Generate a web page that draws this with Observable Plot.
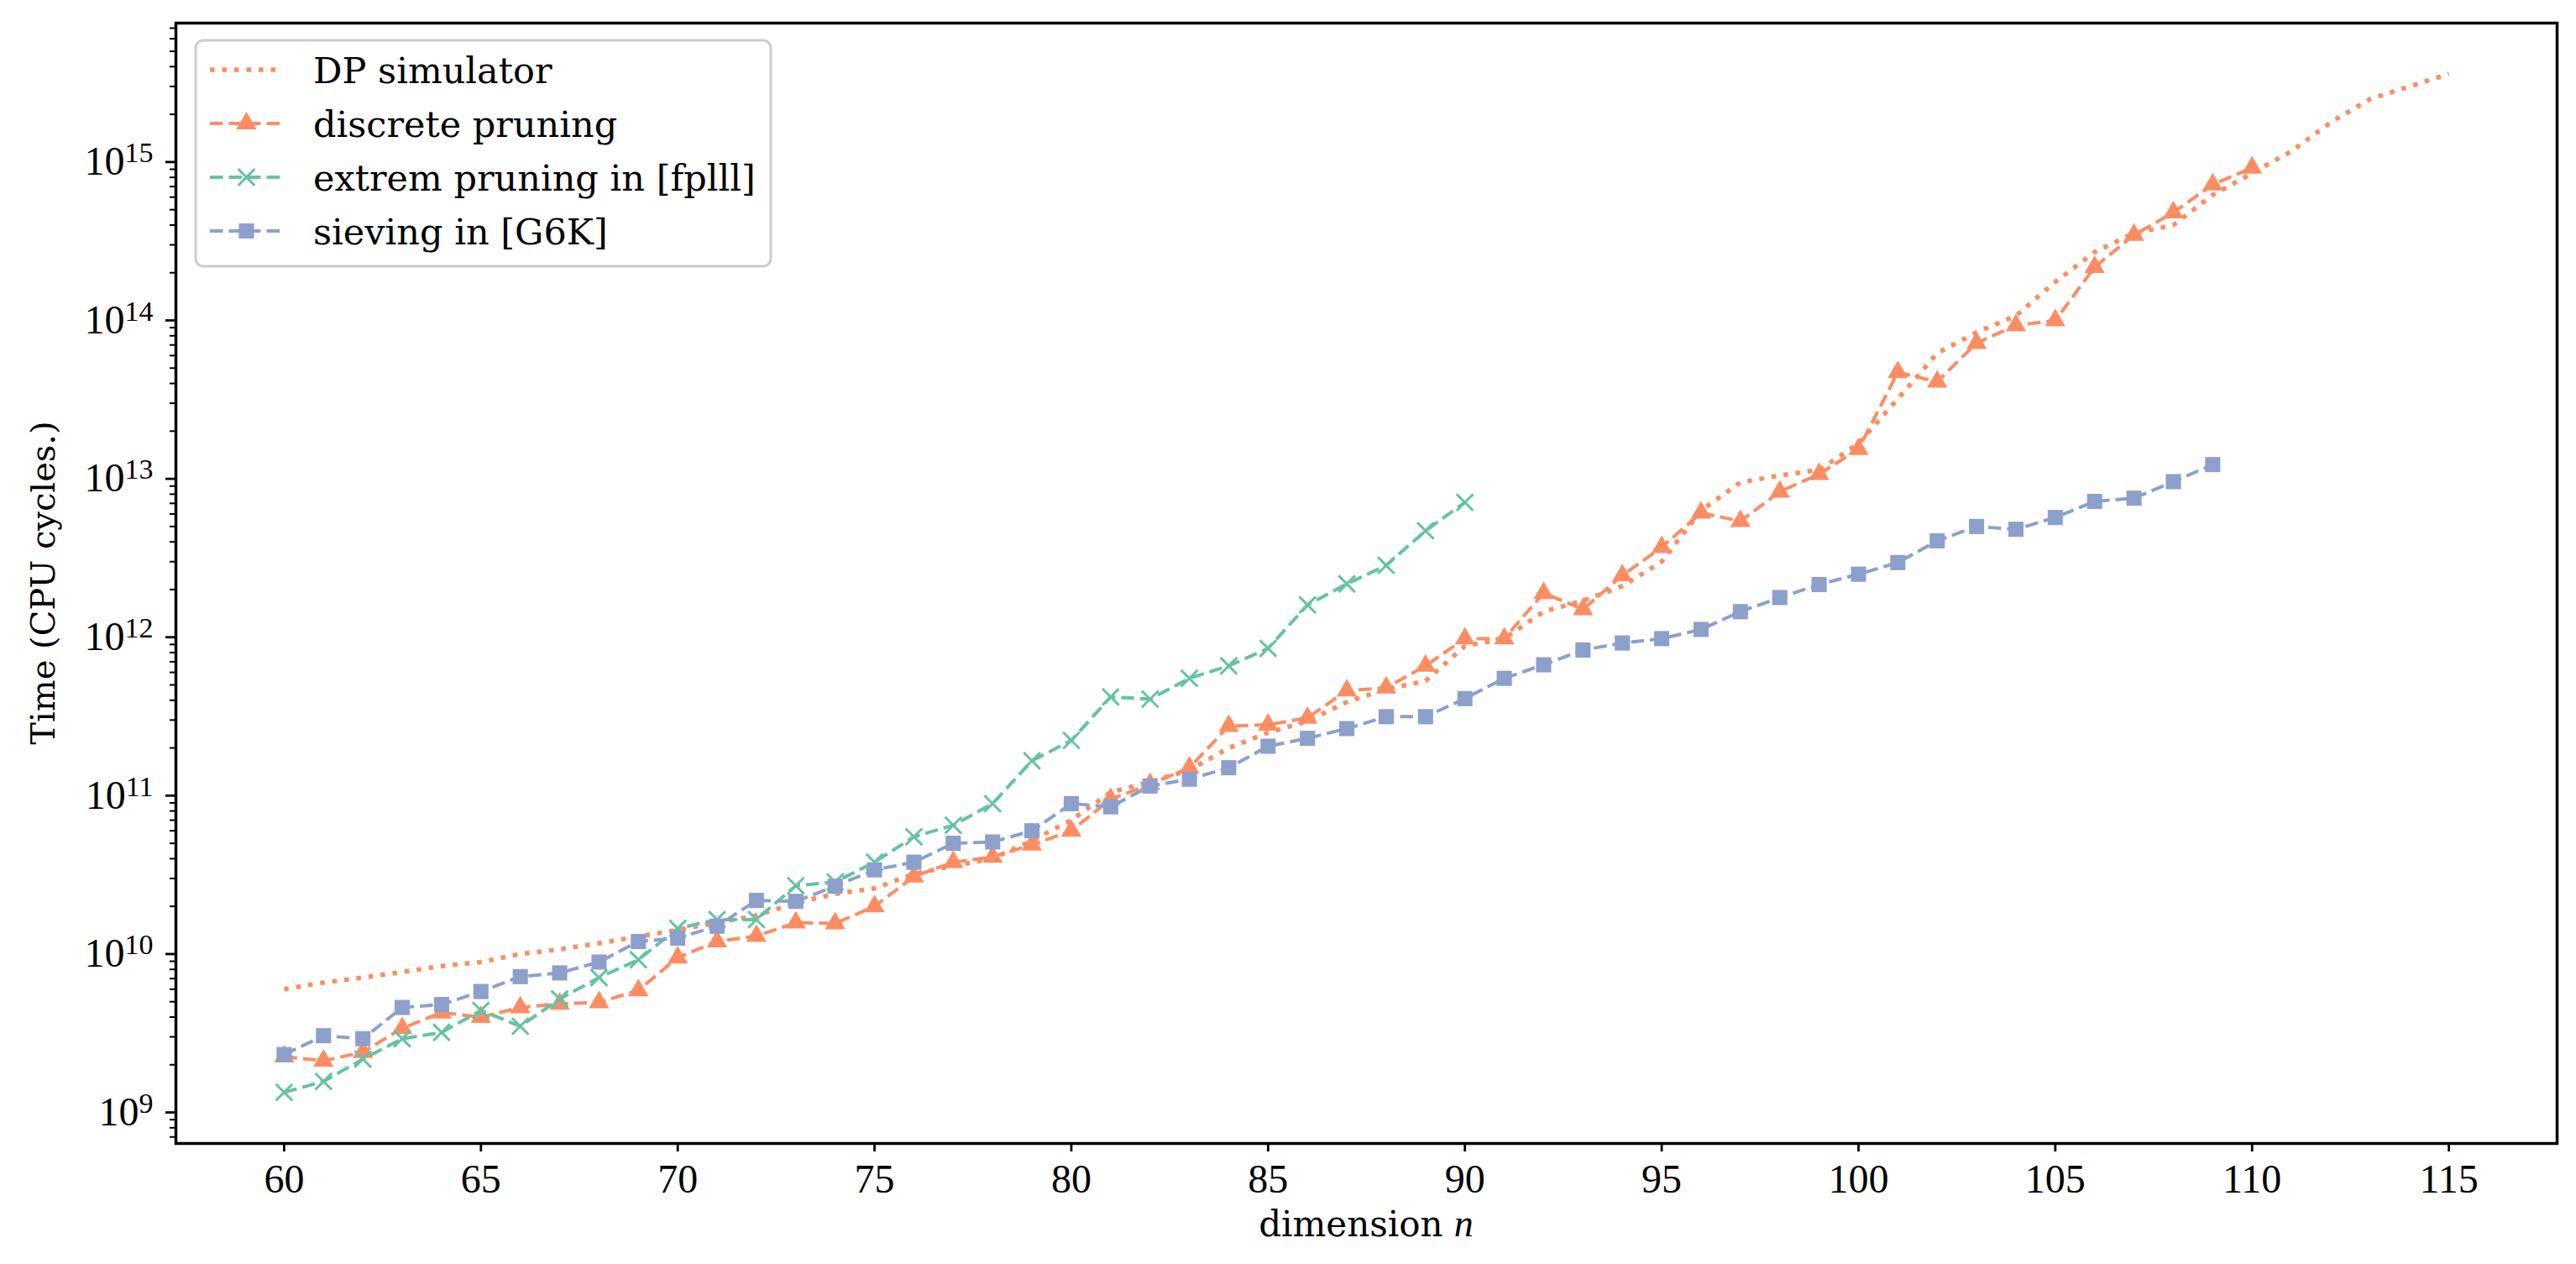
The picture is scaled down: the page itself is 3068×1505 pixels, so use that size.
<!DOCTYPE html>
<html><head><meta charset="utf-8">
<script src="https://cdn.jsdelivr.net/npm/d3@7"></script>
<script src="https://cdn.jsdelivr.net/npm/@observablehq/plot@0.6"></script>
<style>body{margin:0;background:#fff}</style>
</head><body><div id="chart"></div>
<script>
// ---- data ----
const dpN = d3.range(60, 116);
const dpSim = [
  6.0e9, 6.6e9, 7.1e9, 7.7e9, 8.4e9, 8.9e9, 1.0e10, 1.07e10, 1.17e10, 1.29e10,
  1.42e10, 1.58e10, 1.75e10, 2.1e10, 2.4e10, 2.6e10, 3.2e10, 3.6e10, 4.0e10, 5.2e10,
  7.0e10, 1.05e11, 1.22e11, 1.45e11, 2.0e11, 2.5e11, 2.95e11, 3.9e11, 4.7e11, 5.3e11,
  8.8e11, 9.8e11, 1.45e12, 1.7e12, 2.1e12, 3.0e12, 6.3e12, 9.5e12, 1.05e13, 1.14e13,
  1.67e13, 3.2e13, 6.2e13, 8.4e13, 1.07e14, 1.75e14, 2.7e14, 3.55e14, 4.0e14, 6.2e14,
  8.5e14, 1.17e15, 1.78e15, 2.5e15, 3.0e15, 3.6e15
];
const discN = d3.range(60, 111);
const discrete = [
  2.25e9, 2.12e9, 2.4e9, 3.4e9, 4.27e9, 4.0e9, 4.6e9, 4.85e9, 4.95e9, 5.9e9,
  9.5e9, 1.2e10, 1.3e10, 1.58e10, 1.56e10, 2.0e10, 3.08e10, 3.8e10, 4.1e10, 4.9e10,
  6.0e10, 9.5e10, 1.18e11, 1.5e11, 2.75e11, 2.8e11, 3.1e11, 4.6e11, 4.8e11, 6.6e11,
  9.8e11, 9.8e11, 1.9e12, 1.5e12, 2.45e12, 3.7e12, 6.1e12, 5.4e12, 8.3e12, 1.07e13,
  1.54e13, 4.7e13, 4.1e13, 7.2e13, 9.3e13, 1.0e14, 2.17e14, 3.46e14, 4.8e14, 7.2e14, 9.2e14
];
const extN = d3.range(60, 91);
const extreme = [
  1.34e9, 1.57e9, 2.17e9, 2.92e9, 3.2e9, 4.4e9, 3.5e9, 5.2e9, 7.1e9, 9.2e9,
  1.45e10, 1.65e10, 1.65e10, 2.7e10, 2.85e10, 3.8e10, 5.5e10, 6.5e10, 8.9e10, 1.66e11,
  2.23e11, 4.2e11, 4.07e11, 5.5e11, 6.6e11, 8.5e11, 1.6e12, 2.17e12, 2.84e12, 4.7e12, 7.1e12
];
const sieveN = d3.range(60, 110);
const sieving = [
  2.32e9, 3.05e9, 2.92e9, 4.6e9, 4.8e9, 5.8e9, 7.2e9, 7.6e9, 8.9e9, 1.2e10,
  1.26e10, 1.5e10, 2.18e10, 2.15e10, 2.68e10, 3.4e10, 3.8e10, 5.0e10, 5.1e10, 6.0e10,
  8.9e10, 8.5e10, 1.15e11, 1.27e11, 1.5e11, 2.05e11, 2.3e11, 2.65e11, 3.15e11, 3.15e11,
  4.1e11, 5.5e11, 6.7e11, 8.3e11, 9.2e11, 9.8e11, 1.12e12, 1.45e12, 1.78e12, 2.15e12,
  2.5e12, 2.96e12, 4.06e12, 5.0e12, 4.8e12, 5.7e12, 7.2e12, 7.55e12, 9.6e12, 1.23e13
];
const xTicks = [60, 65, 70, 75, 80, 85, 90, 95, 100, 105, 110, 115];
const yMajor = [1e9, 1e10, 1e11, 1e12, 1e13, 1e14, 1e15];
const seriesNames = ["DP simulator", "discrete pruning", "extrem pruning in [fplll]", "sieving in [G6K]"];
const xLabel = "dimension ";
const xLabelVar = "n";
const yLabel = "Time (CPU cycles.)";

const ORANGE = "#fc8d62", GREEN = "#66c2a5", BLUE = "#8da0cb";
const DOT = "5.5,9", DASH = "15.5,7";

const toRows = (ns, vs) => ns.map((n, i) => ({n, t: vs[i]}));
const dpRows = toRows(dpN, dpSim);
const discRows = toRows(discN, discrete);
const extRows = toRows(extN, extreme);
const sieveRows = toRows(sieveN, sieving);

const yMinor = [];
for (let e = 8; e <= 15; e++) for (let m = 2; m <= 9; m++) {
  const v = m * Math.pow(10, e);
  if (v > Math.pow(10, 8.804) && v < Math.pow(10, 15.877)) yMinor.push(v);
}

const plot = Plot.plot({
  width: 3068, height: 1505,
  marginLeft: 209, marginRight: 23, marginTop: 27, marginBottom: 144,
  style: {background: "white", color: "black"},
  x: {domain: [57.25, 117.75]},
  y: {type: "log", domain: [Math.pow(10, 8.804), Math.pow(10, 15.877)]},
  marks: [
    Plot.line(dpRows, {x: "n", y: "t", stroke: ORANGE, strokeWidth: 5.5, strokeDasharray: DOT, strokeLinecap: "butt", strokeLinejoin: "round"}),
    Plot.line(discRows, {x: "n", y: "t", stroke: ORANGE, strokeWidth: 4, strokeDasharray: DASH, strokeLinecap: "butt"}),
    Plot.dot(discRows, {x: "n", y: "t", symbol: "triangle", r: 9, fill: ORANGE, stroke: "none"}),
    Plot.line(extRows, {x: "n", y: "t", stroke: GREEN, strokeWidth: 4, strokeDasharray: DASH, strokeLinecap: "butt"}),
    Plot.dot(extRows, {x: "n", y: "t", symbol: "times", r: 9, stroke: GREEN, strokeWidth: 3}),
    Plot.line(sieveRows, {x: "n", y: "t", stroke: BLUE, strokeWidth: 4, strokeDasharray: DASH, strokeLinecap: "butt"}),
    Plot.dot(sieveRows, {x: "n", y: "t", symbol: "square", r: 10.2, fill: BLUE, stroke: "none"}),
    Plot.frame({stroke: "black", strokeWidth: 3.5}),
    Plot.axisX(xTicks, {tickSize: 10, tickPadding: 14, strokeWidth: 2.8, fontSize: 48, fontFamily: "Liberation Serif", label: null, tickFormat: d => String(d)}),
    Plot.axisY(yMinor, {tickSize: 7, strokeWidth: 2, tickFormat: () => "", label: null}),
    Plot.axisY(yMajor, {tickSize: 12, tickPadding: 15, strokeWidth: 2.8, fontSize: 48, fontFamily: "Liberation Serif", label: null,
      tickFormat: d => "10|" + Math.round(Math.log10(d))})
  ]
});

const svg = d3.select(plot);
// superscript exponents on the y tick labels
svg.selectAll("text").each(function () {
  const s = this.textContent;
  if (s.includes("|")) {
    const [b, e] = s.split("|");
    this.textContent = "";
    const t = d3.select(this);
    t.append("tspan").text(b);
    t.append("tspan").attr("dy", -15).attr("font-size", 34).text(e);
  }
});

// axis labels
svg.append("text")
  .attr("transform", "translate(51,694) rotate(-90)")
  .attr("text-anchor", "middle").attr("dy", "0.36em")
  .attr("font-family", "DejaVu Serif").attr("font-size", 40).attr("fill", "black")
  .text(yLabel);
const xl = svg.append("text")
  .attr("x", 1627).attr("y", 1472).attr("text-anchor", "middle")
  .attr("font-family", "DejaVu Serif").attr("font-size", 42).attr("fill", "black");
xl.append("tspan").text(xLabel);
xl.append("tspan").attr("font-family", "Liberation Serif").attr("font-style", "italic").attr("font-size", 46).text(xLabelVar);

// legend
const lg = svg.append("g").attr("text-anchor", "start");
lg.append("rect").attr("x", 233).attr("y", 48).attr("width", 685).attr("height", 269).attr("rx", 9)
  .attr("fill", "white").attr("fill-opacity", 0.8).attr("stroke", "#cccccc").attr("stroke-width", 3);
const legendDefs = [
  {color: ORANGE, sw: 5.5, dash: DOT, symbol: null},
  {color: ORANGE, sw: 4, dash: DASH, symbol: d3.symbolTriangle, r: 9, fill: true},
  {color: GREEN, sw: 4, dash: DASH, symbol: d3.symbolTimes, r: 9, fill: false},
  {color: BLUE, sw: 4, dash: DASH, symbol: d3.symbolSquare, r: 10.2, fill: true}
];
seriesNames.forEach((name, i) => {
  const d = legendDefs[i];
  const y = 83 + i * 64;
  lg.append("line").attr("x1", 250).attr("x2", 337).attr("y1", y).attr("y2", y)
    .attr("stroke", d.color).attr("stroke-width", d.sw).attr("stroke-dasharray", d.dash);
  if (d.symbol) {
    const p = lg.append("path").attr("d", d3.symbol(d.symbol, Math.PI * d.r * d.r)())
      .attr("transform", `translate(293.5,${y})`);
    if (d.fill) p.attr("fill", d.color).attr("stroke", "none");
    else p.attr("fill", "none").attr("stroke", d.color).attr("stroke-width", 3);
  }
  lg.append("text").attr("x", 373).attr("y", y).attr("dy", "0.365em").attr("text-anchor", "start")
    .attr("font-family", "DejaVu Serif").attr("font-size", 43).attr("fill", "black").text(name);
});

document.getElementById("chart").appendChild(plot);
</script>
</body></html>
